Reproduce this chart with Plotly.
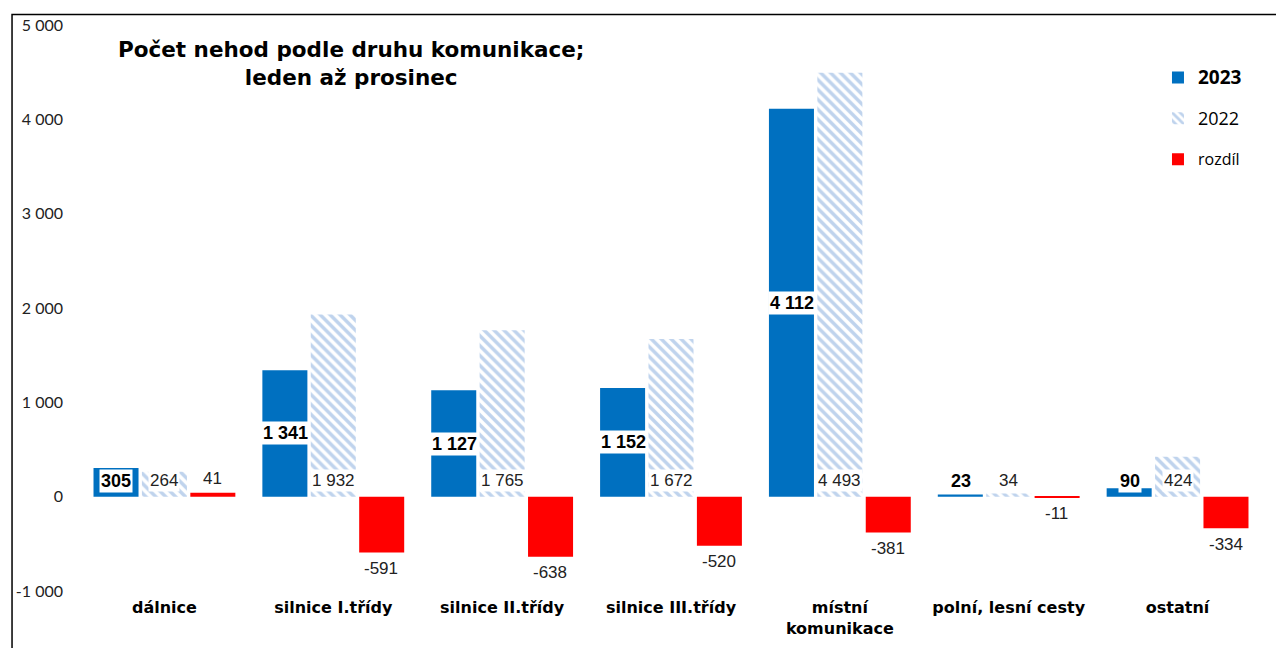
import plotly.graph_objects as go

# ── Data ─────────────────────────────────────────────────────────────────────
categories = [
    "dálnice",
    "silnice I.třídy",
    "silnice II.třídy",
    "silnice III.třídy",
    "místní<br>komunikace",
    "polní, lesní cesty",
    "ostatní",
]
values_2023 = [305, 1341, 1127, 1152, 4112, 23, 90]
values_2022 = [264, 1932, 1765, 1672, 4493, 34, 424]
diff = [41, -591, -638, -520, -381, -11, -334]

tick_vals = [-1000, 0, 1000, 2000, 3000, 4000, 5000]
tick_text = ["-1 000", "0", "1 000", "2 000", "3 000", "4 000", "5 000"]

BLUE = "#0070C0"
HATCH = "#7FA8DB"
RED = "#FF0000"
LABEL_FONT = "Liberation Sans, Arial, sans-serif"
SLOT = 48  # px offset of side bars from category centre


def _fmt(v):
    s = f"{abs(v):,}".replace(",", " ")
    return ("-" if v < 0 else "") + s


fig = go.Figure()
fig.add_trace(go.Bar(
    name="<span style='font-size:19px'><b>2023</b></span>", x=categories, y=values_2023,
    marker=dict(color=BLUE, line=dict(width=0)),
    legendgroup="a",
))
fig.add_trace(go.Bar(
    name="<span style='font-size:18px'>2022</span>", x=categories, y=values_2022,
    marker=dict(
        color="white",
        line=dict(width=0),
        pattern=dict(shape="\\", fgcolor=HATCH, bgcolor="white", size=7, solidity=0.5),
    ),
    legendgroup="b",
))
fig.add_trace(go.Bar(
    name="rozdíl", x=categories, y=diff,
    marker=dict(color=RED, line=dict(width=0)),
    legendgroup="c",
))

# ── Data labels ──────────────────────────────────────────────────────────────
annotations = []
for cat, v23, v22, d in zip(categories, values_2023, values_2022, diff):
    annotations.append(dict(
        x=cat, y=max(v23 / 2, 170), xref="x", yref="y", xshift=-SLOT,
        text=f"<b>{_fmt(v23)}</b>", showarrow=False, bgcolor="white",
        font=dict(family=LABEL_FONT, size=18, color="black"), borderpad=1,
    ))
    annotations.append(dict(
        x=cat, y=170, xref="x", yref="y", xshift=0,
        text=_fmt(v22), showarrow=False, bgcolor="white",
        font=dict(family=LABEL_FONT, size=17, color="#222222"), borderpad=1,
    ))
    annotations.append(dict(
        x=cat, y=d, xref="x", yref="y", xshift=SLOT,
        yshift=14 if d >= 0 else -16,
        text=_fmt(d), showarrow=False,
        font=dict(family=LABEL_FONT, size=17, color="#222222"),
    ))

# Title
annotations.append(dict(
    x=0.229, y=0.932, xref="paper", yref="paper", xanchor="center", yanchor="middle",
    text="<b>Počet nehod podle druhu komunikace;<br>leden až prosinec</b>",
    showarrow=False, align="center",
    font=dict(family="DejaVu Sans, sans-serif", size=21.5, color="black"),
))

fig.update_layout(
    width=1284,
    height=648,
    margin=dict(l=72, r=30, t=17, b=65),
    paper_bgcolor="white",
    plot_bgcolor="white",
    separators=", ",
    barmode="group",
    bargap=0.14,
    bargroupgap=0.07,
    showlegend=True,
    legend=dict(
        x=0.912, y=0.937, xanchor="left", yanchor="top",
        font=dict(family="Open Sans, sans-serif", size=16, color="black"),
        tracegroupgap=17,
        bgcolor="rgba(0,0,0,0)",
    ),
    annotations=annotations,
    shapes=[dict(
        type="rect", xref="paper", yref="paper",
        x0=-0.0575, x1=1.1, y0=-0.2, y1=1.0186,
        line=dict(color="black", width=1.5), fillcolor="rgba(0,0,0,0)", layer="below",
    )],
)
fig.update_xaxes(
    automargin=False,
    showgrid=False, showline=False, zeroline=False, ticks="",
    ticklabelstandoff=5,
    tickfont=dict(family="DejaVu Sans, sans-serif", size=16, color="black"),
    tickprefix="<b>", ticksuffix="</b>",
)
fig.update_yaxes(
    automargin=False,
    range=[-1000, 5000], tickvals=tick_vals, ticktext=tick_text,
    showgrid=False, showline=False, zeroline=False, ticks="",
    ticklabelstandoff=16,
    tickfont=dict(family="Lato, sans-serif", size=16, color="#222222"),
)

fig.write_html("out.html")
